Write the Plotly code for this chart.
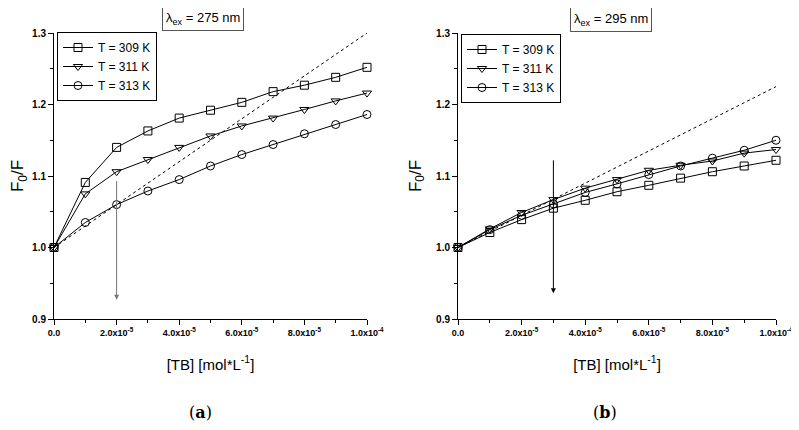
import plotly.graph_objects as go

# ---- data ----
conc = [0, 1e-5, 2e-5, 3e-5, 4e-5, 5e-5, 6e-5, 7e-5, 8e-5, 9e-5, 1e-4]
series_names = ["T = 309 K", "T = 311 K", "T = 313 K"]

a_309 = [1.000, 1.091, 1.140, 1.163, 1.181, 1.192, 1.203, 1.218, 1.227, 1.238, 1.252]
a_311 = [1.000, 1.075, 1.106, 1.123, 1.140, 1.156, 1.170, 1.181, 1.193, 1.205, 1.216]
a_313 = [1.000, 1.035, 1.060, 1.079, 1.095, 1.114, 1.130, 1.144, 1.159, 1.172, 1.186]

b_309 = [1.000, 1.021, 1.039, 1.055, 1.066, 1.078, 1.087, 1.097, 1.106, 1.114, 1.122]
b_311 = [1.000, 1.026, 1.049, 1.067, 1.083, 1.095, 1.108, 1.115, 1.121, 1.132, 1.137]
b_313 = [1.000, 1.025, 1.045, 1.061, 1.077, 1.089, 1.102, 1.114, 1.125, 1.136, 1.150]

fit_x = [0, 1e-4]
fit_a = [1.0, 1.30]
fit_b = [1.0, 1.225]

arrow_a_x = 2e-5
arrow_a_y = [1.095, 0.927]
arrow_b_x = 3e-5
arrow_b_y = [1.124, 0.936]

xtick_vals = [0, 2e-5, 4e-5, 6e-5, 8e-5, 1e-4]
xtick_text = ["0.0", "2.0x10<sup>-5</sup>", "4.0x10<sup>-5</sup>", "6.0x10<sup>-5</sup>",
              "8.0x10<sup>-5</sup>", "1.0x10<sup>-4</sup>"]
ytick_vals = [0.9, 1.0, 1.1, 1.2, 1.3]
ytick_text = ["0.9", "1.0", "1.1", "1.2", "1.3"]

titles = ["λ<sub>ex</sub> = 275 nm", "λ<sub>ex</sub> = 295 nm"]
panel_labels = ["(<b>a</b>)", "(<b>b</b>)"]

symbols = ["square-open", "triangle-down-open", "circle-open"]

# page body has an 8px margin: the figure is drawn from (8, 8)
OFF = 8
W, H = 799 - OFF, 430 - OFF


def px(xp):
    return (xp - OFF) / W


def py(yp):
    return 1 - (yp - OFF) / H


FAM = "Liberation Sans"
XTICKFONT = dict(family=FAM, size=9, color="black", weight="bold")
YTICKFONT = dict(family=FAM, size=10, color="black", weight="bold")
LABFONT = dict(family=FAM, size=15, color="black")

fig = go.Figure()

panels = [
    dict(xa="x", ya="y", data=[a_309, a_311, a_313], fit=fit_a, legend="legend",
         arrow_x=arrow_a_x, arrow_y=arrow_a_y, arrow_color="#777777"),
    dict(xa="x2", ya="y2", data=[b_309, b_311, b_313], fit=fit_b, legend="legend2",
         arrow_x=arrow_b_x, arrow_y=arrow_b_y, arrow_color="black"),
]

for p in panels:
    fig.add_trace(go.Scatter(x=fit_x, y=p["fit"], mode="lines", xaxis=p["xa"], yaxis=p["ya"],
                             line=dict(color="black", width=1, dash="dot"), showlegend=False,
                             hoverinfo="skip"))
    for name, ys, sym in zip(series_names, p["data"], symbols):
        fig.add_trace(go.Scatter(x=conc, y=ys, mode="lines+markers", name=name,
                                 xaxis=p["xa"], yaxis=p["ya"], legend=p["legend"],
                                 cliponaxis=False,
                                 line=dict(color="black", width=1),
                                 marker=dict(symbol=sym, size=8, color="black",
                                             line=dict(width=1, color="black"))))
    fig.add_annotation(x=p["arrow_x"], y=p["arrow_y"][1], ax=p["arrow_x"], ay=p["arrow_y"][0],
                       xref=p["xa"], yref=p["ya"], axref=p["xa"], ayref=p["ya"],
                       showarrow=True, arrowhead=2, arrowsize=1, arrowwidth=1,
                       arrowcolor=p["arrow_color"], text="")

xdoms = [[px(54), px(367)], [px(458), px(776)]]
ydom = [py(319), py(33)]

common_x = dict(range=[0, 1e-4], showgrid=False, zeroline=False, showline=True, automargin=False,
                linecolor="black", linewidth=1, ticks="outside", ticklen=5, tickwidth=1,
                tickcolor="black", tickvals=xtick_vals, ticktext=xtick_text,
                tickfont=XTICKFONT,
                minor=dict(dtick=1e-5, tick0=0, ticks="outside", ticklen=3, tickcolor="black"),
                title=dict(text="[TB] [mol*L<sup>-1</sup>]", font=LABFONT, standoff=22))
common_y = dict(range=[0.9, 1.3], showgrid=False, zeroline=False, showline=True, automargin=False,
                linecolor="black", linewidth=1, ticks="outside", ticklen=5, tickwidth=1,
                tickcolor="black", tickvals=ytick_vals, ticktext=ytick_text,
                tickfont=YTICKFONT,
                minor=dict(dtick=0.05, tick0=0.9, ticks="outside", ticklen=3, tickcolor="black"),
                title=dict(text="F<sub>0</sub>/F", font=dict(LABFONT, size=17), standoff=10))

LEGFONT = dict(family=FAM, size=12, color="black")
fig.update_layout(
    width=W, height=H, margin=dict(l=0, r=0, t=0, b=0),
    paper_bgcolor="white", plot_bgcolor="white",
    xaxis=dict(common_x, domain=xdoms[0], anchor="y"),
    yaxis=dict(common_y, domain=ydom, anchor="x"),
    xaxis2=dict(common_x, domain=xdoms[1], anchor="y2"),
    yaxis2=dict(common_y, domain=ydom, anchor="x2"),
    legend=dict(x=px(57), y=py(32), xanchor="left", yanchor="top",
                bordercolor="black", borderwidth=1, bgcolor="white",
                font=LEGFONT, tracegroupgap=0, itemwidth=30),
    legend2=dict(x=px(461), y=py(34), xanchor="left", yanchor="top",
                 bordercolor="black", borderwidth=1, bgcolor="white",
                 font=LEGFONT, tracegroupgap=0, itemwidth=30),
    showlegend=True,
)

title_pos = [(px(203), py(18)), (px(611), py(20))]
for t, (tx, ty) in zip(titles, title_pos):
    fig.add_annotation(text=t, x=tx, y=ty, xref="paper", yref="paper", showarrow=False,
                       xanchor="center", yanchor="middle",
                       font=dict(family=FAM, size=13, color="black"),
                       bordercolor="#555555", borderwidth=1, borderpad=3, bgcolor="white")

label_pos = [(px(200), py(412)), (px(605), py(412))]
for t, (tx, ty) in zip(panel_labels, label_pos):
    fig.add_annotation(text=t, x=tx, y=ty, xref="paper", yref="paper", showarrow=False,
                       xanchor="center", yanchor="middle",
                       font=dict(family="DejaVu Serif, Liberation Serif", size=16, color="black"))

fig.write_html("out.html")
